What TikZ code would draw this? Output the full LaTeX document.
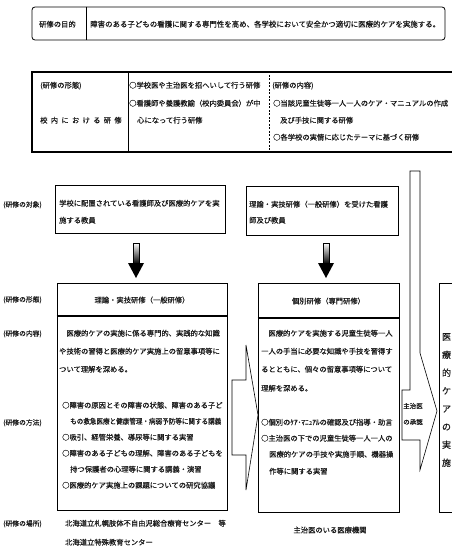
\documentclass[tikz,border=0pt]{standalone}
\usepackage{fontspec}
\setmainfont{Noto Sans CJK JP}[FakeBold=0.35]
\usepackage{graphicx}
\usetikzlibrary{calc}
\tikzset{
  jt/.style={inner sep=0pt, anchor=base west, font=\fontsize{7.3pt}{9pt}\selectfont, text=black!90},
  lbl/.style={jt, font=\fontsize{6.8pt}{9pt}\selectfont},
  frame/.style={draw=black, line width=0.8pt, inner sep=0pt},
  heavy/.style={draw=black, line width=1.2pt, inner sep=0pt},
  blockarrow/.style={draw=black, line width=0.6pt, fill=white, line join=miter},
}
\newcommand\jl[4]{\node[jt] (#1) at (#2,#3) {#4};}
\newcommand\lb[4]{\node[lbl] (#1) at (#2,#3) {#4};}
\newcommand\gp{\hspace{3.3pt}}
\begin{document}
\begin{tikzpicture}[x=1pt,y=-1pt]
\useasboundingbox (0,0) rectangle (452,551);
\fill[white] (0,0) rectangle (452,551);

% ---------- goal box
\node[frame, rounded corners=3pt, minimum width=413pt, minimum height=33pt] (goal) at (238.5,23.5) {};
\draw[line width=0.6pt] (86,0 |- goal.north) -- (86,0 |- goal.south);
\jl{goalA}{39}{27}{研修の目的}
\node[jt, font=\fontsize{7.45pt}{9pt}\selectfont] (goalB) at (90,27) {障害のある子どもの看護に関する専門性を高め、各学校において安全かつ適切に医療的ケアを実施する。};

% ---------- in-school training box
\node[heavy, minimum width=426pt, minimum height=80pt] (form) at (245,112) {};
\draw[line width=0.8pt] (128,0 |- form.north) -- (128,0 |- form.south);
\draw[line width=0.6pt, dash pattern=on 2pt off 1.5pt] (269,0 |- form.north) -- (269,0 |- form.south);
\jl{fA}{40}{88}{(研修の形態)}
\jl{fB}{40}{123}{校\gp 内\gp に\gp お\gp け\gp る\gp 研\gp 修}
\jl{fC}{129}{88}{○学校医や主治医を招へいして行う研修}
\jl{fD}{129}{106}{○看護師や養護教諭（校内委員会）が中}
\jl{fE}{137}{123}{心になって行う研修}
\jl{fF}{272}{88}{(研修の内容)}
\jl{fG}{273}{106}{○当該児童生徒等一人一人のケア・マニュアルの作成}
\jl{fH}{280}{123}{及び手技に関する研修}
\jl{fI}{273}{140}{○各学校の実情に応じたテーマに基づく研修}

% ---------- row labels
\lb{rA}{3}{207}{(研修の対象)}
\lb{rB}{3}{302}{(研修の形態)}
\lb{rC}{3}{336}{(研修の内容)}
\lb{rD}{3}{425}{(研修の方法)}
\lb{rE}{3}{526}{(研修の場所)}

% ---------- target boxes
\node[frame, line width=1pt, minimum width=170pt, minimum height=48pt] (t1) at (140,209) {};
\jl{t1a}{59}{206}{学校に配置されている看護師及び医療的ケアを実}
\jl{t1b}{59}{223}{施する教員}
\node[frame, line width=1pt, minimum width=152pt, minimum height=49pt] (t2) at (322,210.5) {};
\jl{t2a}{249}{207}{理論・実技研修（一般研修）を受けた看護}
\jl{t2b}{249}{223}{師及び教員}

% ---------- down arrows
\coordinate (d1) at (136,243);
\coordinate (d2) at (326,243);
\foreach \d in {d1,d2}{
  \shade[top color=white, bottom color=black, draw=black, line width=0.5pt]
    ($(\d)+(-3,0)$) rectangle ($(\d)+(3,21)$);
  \fill[black] ($(\d)+(-8,20)$) -- ($(\d)+(8,20)$) -- ($(\d)+(0,35)$) -- cycle;
}

% ---------- column 1
\node[frame, minimum width=170pt, minimum height=227pt] (c1) at (142,396.5) {};
\draw[line width=1.1pt] (c1.west |- 0,316) -- (c1.east |- 0,316);
\node[inner sep=0pt, font=\fontsize{7.3pt}{9pt}\selectfont, text=black!90] (c1h) at (142,300) {理論・実技研修（一般研修）};
\jl{c1a}{59}{336}{　医療的ケアの実施に係る専門的、実践的な知識}
\jl{c1b}{59}{354}{や技術の習得と医療的ケア実施上の留意事項等に}
\jl{c1c}{59}{372}{ついて理解を深める。}
\jl{c1d}{62}{408}{○障害の原因とその障害の状態、障害のある子ど}
\jl{c1e}{70}{424}{\scalebox{0.9}[1]{もの救急医療と健康管理・病弱予防等に関する講義}}
\jl{c1f}{62}{440}{○吸引、経管栄養、導尿等に関する実習}
\jl{c1g}{62}{456}{○障害のある子どもの理解、障害のある子どもを}
\jl{c1h2}{70}{472}{持つ保護者の心理等に関する講義・演習}
\jl{c1i}{62}{488}{○医療的ケア実施上の課題についての研究協議}
\jl{p1a}{65}{526}{北海道立札幌肢体不自由児総合療育センター　等}
\jl{p1b}{65}{545}{北海道立特殊教育センター}

% ---------- column 2
\node[frame, minimum width=141pt, minimum height=229pt] (c2) at (328.5,397.5) {};
\draw[line width=1.1pt] (c2.west |- 0,318) -- (c2.east |- 0,318);
\node[inner sep=0pt, font=\fontsize{7.3pt}{9pt}\selectfont, text=black!90] (c2h) at (328.5,301) {個別研修（専門研修）};
\jl{c2a}{261}{336}{　医療的ケアを実施する児童生徒等一人}
\jl{c2b}{261}{354}{一人の手当に必要な知識や手技を習得す}
\jl{c2c}{261}{372}{るとともに、個々の留意事項等について}
\jl{c2d}{261}{391}{理解を深める。}
\jl{c2e}{261}{425}{○個別のｹｱ･ﾏﾆｭｱﾙの確認及び指導・助言}
\jl{c2f}{261}{441}{○主治医の下での児童生徒等一人一人の}
\jl{c2g}{269}{457}{医療的ケアの手技や実施手順、機器操}
\jl{c2h2}{269}{474}{作等に関する実習}
\node[inner sep=0pt, font=\fontsize{7.3pt}{9pt}\selectfont, text=black!90] (p2) at (330,530) {主治医のいる医療機関};

% ---------- column 3
\node[frame, minimum width=31pt, minimum height=229pt] (c3) at (454.5,397.5) {};
\node[inner sep=0pt, align=center, font=\fontsize{9pt}{18pt}\selectfont, text=black!90] (c3t) at (446.5,400) {医\\療\\的\\ケ\\ア\\の\\実\\施};

% ---------- block arrows
\draw[blockarrow] (232,380) -- (246,380) -- (246,345) -- (258,415) -- (246,490) -- (246,455) -- (232,455) -- cycle;
\draw[blockarrow] (410,171) -- (420,171) -- (420,353) -- (437,411) -- (420,470) -- (420,440)
   -- (402,440) -- (402,390) -- (410,390) -- cycle;
\node[inner sep=0pt, align=center, font=\fontsize{6.5pt}{16pt}\selectfont, text=black!90] (appr) at (413,414) {主治医\\の承認};
\end{tikzpicture}
\end{document}
